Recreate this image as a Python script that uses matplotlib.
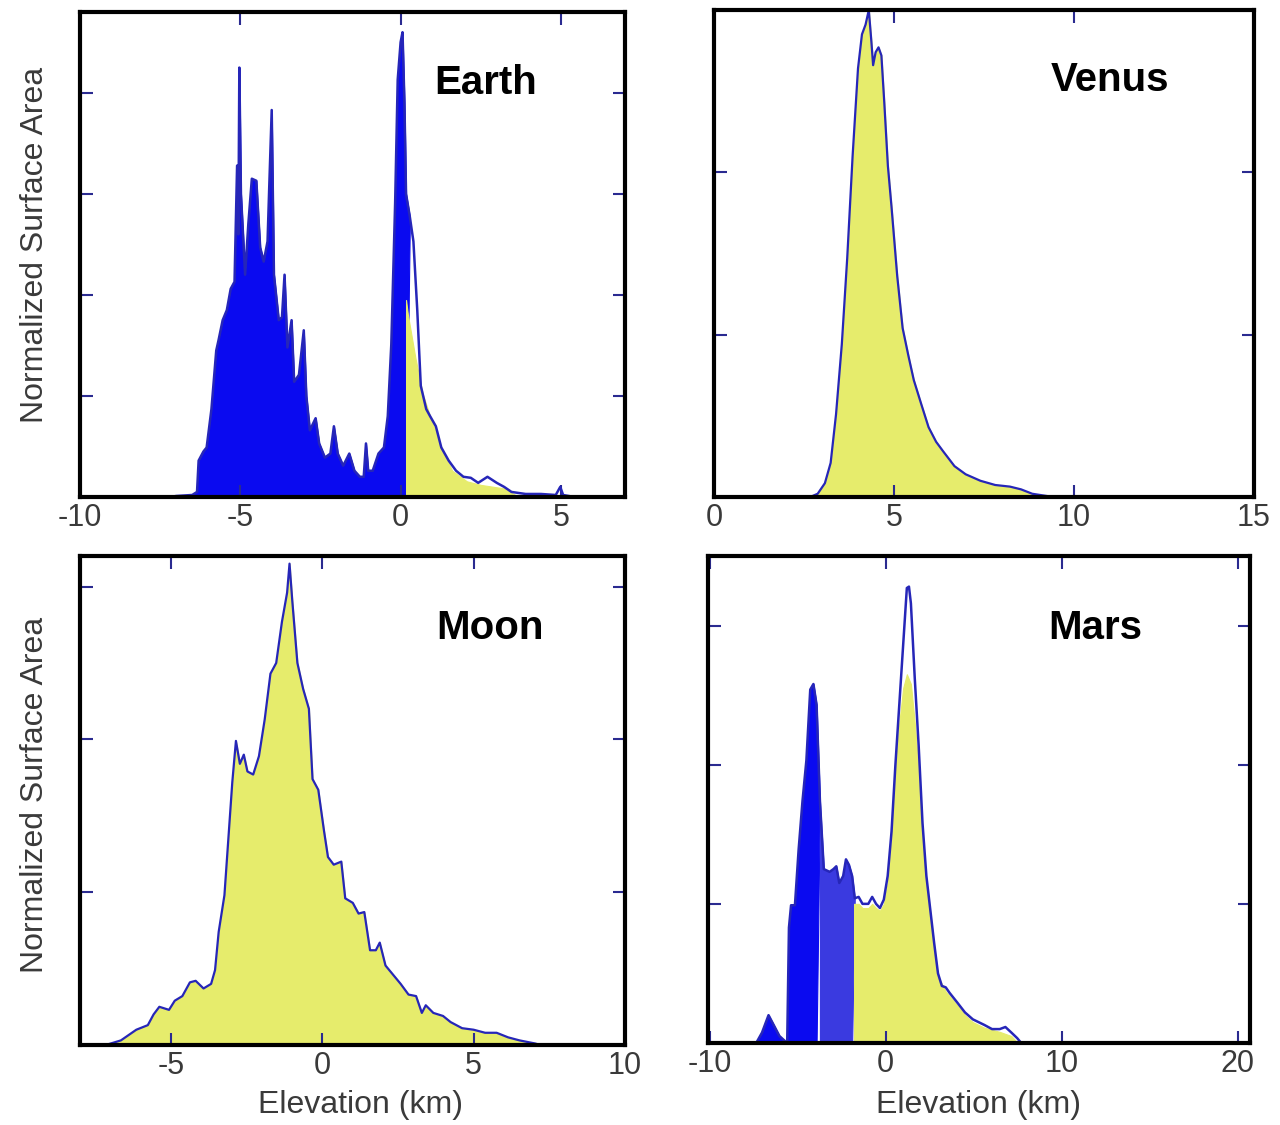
import matplotlib
matplotlib.use("Agg")
import matplotlib.pyplot as plt
import numpy as np

plt.rcParams['font.family'] = ['Liberation Sans', 'DejaVu Sans']

# ---------------- data ----------------
planets = ["Earth", "Venus", "Moon", "Mars"]

earth_x = [-7.2, -7.0, -6.5, -6.35, -6.3, -6.15, -6.05, -5.9, -5.75, -5.68, -5.55, -5.42, -5.3, -5.18,
           -5.1, -5.06, -5.03, -4.98, -4.85, -4.75, -4.64, -4.5, -4.38, -4.27, -4.15, -4.1, -4.02, -3.95,
           -3.8, -3.7, -3.62, -3.53, -3.4, -3.32, -3.17, -3.02, -2.94, -2.83, -2.65, -2.54, -2.36, -2.19,
           -2.08, -1.96, -1.79, -1.6, -1.44, -1.27, -1.15, -1.08, -1.01, -0.87, -0.69, -0.52, -0.4, -0.29,
           -0.17, -0.09, 0.0, 0.06, 0.12, 0.17, 0.29, 0.4, 0.52, 0.63, 0.8, 0.92, 1.1, 1.27, 1.5, 1.73,
           1.96, 2.19, 2.42, 2.71, 3.0, 3.23, 3.46, 3.9, 4.38, 4.84, 4.98, 5.07, 5.42]
earth_y = [0.0, 0.01, 0.02, 0.05, 0.36, 0.45, 0.49, 0.87, 1.45, 1.55, 1.75, 1.85, 2.06, 2.13,
           3.28, 2.6, 4.25, 3.0, 2.2, 2.7, 3.15, 3.13, 2.47, 2.33, 2.53, 3.04, 3.83, 2.2,
           1.75, 1.78, 2.2, 1.48, 1.75, 1.14, 1.21, 1.65, 1.0, 0.66, 0.78, 0.53, 0.39, 0.43,
           0.70, 0.43, 0.31, 0.43, 0.26, 0.20, 0.20, 0.53, 0.26, 0.26, 0.43, 0.49, 0.80, 1.51,
           2.91, 4.13, 4.5, 4.6, 3.9, 3.0, 2.77, 2.53, 1.85, 1.1, 0.87, 0.8, 0.70, 0.49, 0.36, 0.26,
           0.20, 0.19, 0.14, 0.20, 0.14, 0.10, 0.05, 0.03, 0.03, 0.02, 0.10, 0.02, 0.0]
earth_land_x = [0.17, 0.23, 0.46, 0.69, 0.92, 1.27, 1.61, 2.07, 2.5, 3.23, 3.58, 3.8]
earth_land_y = [1.95, 1.8, 1.38, 1.02, 0.8, 0.49, 0.26, 0.155, 0.12, 0.085, 0.02, 0.0]
earth_sea_level = 0.17

venus_x = [2.67, 2.88, 3.08, 3.24, 3.39, 3.55, 3.7, 3.85, 4.0, 4.11, 4.21, 4.3, 4.37, 4.42, 4.49,
           4.57, 4.65, 4.73, 4.83, 4.93, 5.09, 5.24, 5.4, 5.55, 5.76, 5.96, 6.17, 6.37, 6.68, 6.99,
           7.4, 7.81, 8.22, 8.53, 8.84, 9.25, 9.45]
venus_y = [0.0, 0.02, 0.085, 0.21, 0.51, 0.94, 1.47, 2.1, 2.64, 2.85, 2.91, 3.0, 2.81, 2.66, 2.74,
           2.77, 2.72, 2.43, 2.04, 1.79, 1.36, 1.04, 0.87, 0.72, 0.57, 0.43, 0.34, 0.28, 0.19, 0.14,
           0.10, 0.074, 0.064, 0.047, 0.02, 0.006, 0.0]

moon_x = [-7.15, -6.65, -6.14, -5.76, -5.57, -5.38, -5.06, -4.87, -4.62, -4.37, -4.18, -3.92, -3.67,
          -3.54, -3.42, -3.23, -3.1, -2.97, -2.85, -2.72, -2.59, -2.47, -2.28, -2.09, -1.9, -1.71,
          -1.52, -1.33, -1.16, -1.08, -0.99, -0.82, -0.63, -0.44, -0.32, -0.13, 0.06, 0.19, 0.38,
          0.63, 0.76, 1.01, 1.2, 1.39, 1.58, 1.77, 1.9, 2.09, 2.34, 2.59, 2.85, 3.1, 3.29, 3.42,
          3.67, 3.99, 4.24, 4.62, 5.0, 5.38, 5.76, 6.14, 6.52, 7.03, 7.2]
moon_y = [0.0, 0.03, 0.10, 0.13, 0.2, 0.25, 0.23, 0.29, 0.32, 0.41, 0.42, 0.37, 0.40,
          0.49, 0.74, 0.98, 1.35, 1.72, 1.99, 1.84, 1.90, 1.79, 1.77, 1.89, 2.13, 2.43,
          2.5, 2.77, 2.96, 3.15, 2.91, 2.5, 2.33, 2.2, 1.74, 1.67, 1.40, 1.23, 1.18,
          1.2, 0.96, 0.93, 0.86, 0.87, 0.62, 0.62, 0.67, 0.52, 0.46, 0.40, 0.33, 0.32, 0.21, 0.26,
          0.21, 0.19, 0.15, 0.11, 0.10, 0.08, 0.08, 0.05, 0.03, 0.01, 0.0]

mars_x = [-7.36, -7.03, -6.66, -6.37, -6.04, -5.78, -5.6, -5.5, -5.38, -5.16, -4.95, -4.73, -4.51,
          -4.29, -4.11, -3.93, -3.74, -3.52, -3.19, -2.97, -2.81, -2.64, -2.42, -2.26, -2.09, -1.91,
          -1.76, -1.54, -1.32, -0.99, -0.77, -0.55, -0.33, -0.11, 0.11, 0.33, 0.55, 0.77, 0.99, 1.2,
          1.32, 1.43, 1.65, 1.87, 2.09, 2.31, 2.53, 2.75, 2.97, 3.19, 3.41, 3.63, 4.07, 4.5, 4.95,
          5.6, 6.04, 6.48, 6.8, 7.14, 7.47, 7.7]
mars_y = [0.0, 0.075, 0.2, 0.13, 0.05, 0.02, 0.0, 0.83, 0.99, 0.99, 1.39, 1.74, 2.03,
          2.54, 2.58, 2.43, 1.74, 1.25, 1.23, 1.25, 1.27, 1.15, 1.2, 1.32, 1.28, 1.2,
          1.04, 1.05, 1.0, 1.0, 1.05, 1.0, 0.97, 1.03, 1.2, 1.52, 2.0, 2.43, 2.86, 3.27,
          3.28, 3.16, 2.62, 2.14, 1.58, 1.2, 0.96, 0.72, 0.5, 0.41, 0.4, 0.36, 0.29, 0.22, 0.17,
          0.13, 0.1, 0.1, 0.115, 0.075, 0.035, 0.0]
mars_fill_x = [-1.8, -1.54, -1.32, -0.99, -0.77, -0.55, -0.33, -0.11, 0.11, 0.33, 0.55, 0.77, 0.99,
               1.2, 1.43, 1.65, 1.87, 2.09, 2.31, 2.53, 2.75, 2.97, 3.41, 4.07, 4.5, 4.95, 5.6, 6.48,
               7.14, 7.5]
mars_fill_y = [1.0, 1.0, 0.97, 0.97, 1.0, 0.97, 0.95, 1.0, 1.15, 1.45, 1.95, 2.3, 2.55,
               2.65, 2.58, 2.3, 1.95, 1.5, 1.17, 0.94, 0.7, 0.48, 0.37, 0.27, 0.2, 0.15, 0.11, 0.08,
               0.05, 0.0]
mars_deep_edge = -3.75
mars_shelf_edge = -1.8

# ---------------- style ----------------
LINE = '#2626b8'
FILL = '#e6ec6c'
DEEP = '#0a0af0'
SHELF = '#3a3ae0'
TICKC = '#2a2a90'
LABELC = '#3a3a3a'

fig = plt.figure(figsize=(12.8, 11.25), dpi=100)
W, H = 1280.0, 1125.0

def add_ax(l, r, t, b):
    return fig.add_axes([l / W, 1 - b / H, (r - l) / W, (b - t) / H])

ax_e = add_ax(80, 625, 12, 497)
ax_v = add_ax(714, 1254, 10, 497)
ax_m = add_ax(80, 625, 556, 1045)
ax_r = add_ax(708, 1250, 556, 1043)

def style(ax, xlim, ylim, xticks, yticks):
    ax.set_xlim(*xlim)
    ax.set_ylim(*ylim)
    ax.set_xticks(xticks)
    ax.set_xticklabels([str(t) for t in xticks])
    ax.set_yticks(yticks)
    ax.set_yticklabels([])
    ax.tick_params(direction='in', length=9, width=1.5, color=TICKC,
                   top=True, right=True, labelsize=22, labelcolor=LABELC, pad=4)
    for s in ax.spines.values():
        s.set_linewidth(3)
        s.set_color('black')
        s.set_zorder(5)

def fill(ax, x, y, color, where=None):
    ax.fill_between(x, y, where=where, facecolor=color, edgecolor=color, lw=0.8,
                    interpolate=True)

# Earth
ex = np.array(earth_x); ey = np.array(earth_y)
fill(ax_e, ex, ey, DEEP, where=ex <= earth_sea_level)
fill(ax_e, earth_land_x, earth_land_y, FILL)
ax_e.plot(ex, ey, color=LINE, lw=1.8)
style(ax_e, (-10, 7), (0, 4.8), [-10, -5, 0, 5], [1, 2, 3, 4])

# Venus
fill(ax_v, venus_x, venus_y, FILL)
ax_v.plot(venus_x, venus_y, color=LINE, lw=1.6)
style(ax_v, (0, 15), (0, 3.0), [0, 5, 10, 15], [1, 2])

# Moon
fill(ax_m, moon_x, moon_y, FILL)
ax_m.plot(moon_x, moon_y, color=LINE, lw=1.6)
style(ax_m, (-8, 10), (0, 3.2), [-5, 0, 5, 10], [1, 2, 3])

# Mars
mx = np.array(mars_x); my = np.array(mars_y)
fill(ax_r, mx, my, DEEP, where=mx <= mars_deep_edge)
fill(ax_r, mx, my, SHELF, where=(mx >= mars_deep_edge) & (mx <= mars_shelf_edge))
fill(ax_r, mars_fill_x, mars_fill_y, FILL)
ax_r.plot(mx, my, color=LINE, lw=1.8)
style(ax_r, (-10.1, 20.7), (0, 3.5), [-10, 0, 10, 20], [1, 2, 3])

# Titles
title_pos = {"Earth": (ax_e, 0.745, 0.854), "Venus": (ax_v, 0.733, 0.856),
             "Moon": (ax_m, 0.752, 0.853), "Mars": (ax_r, 0.714, 0.852)}
for name in planets:
    ax, tx, ty = title_pos[name]
    ax.text(tx, ty, name, transform=ax.transAxes, ha='center', va='center',
            fontsize=29, fontweight='bold', color='black')

# Axis labels
for yc in (245, 795):
    fig.text(35 / W, 1 - yc / H, "Normalized Surface Area", rotation=90,
             ha='center', va='center', fontsize=23, color=LABELC)
for xc in (360, 978):
    fig.text(xc / W, 1 - 1105 / H, "Elevation (km)", ha='center', va='center',
             fontsize=23, color=LABELC)

fig.savefig("out.png", dpi=100, facecolor='white')
